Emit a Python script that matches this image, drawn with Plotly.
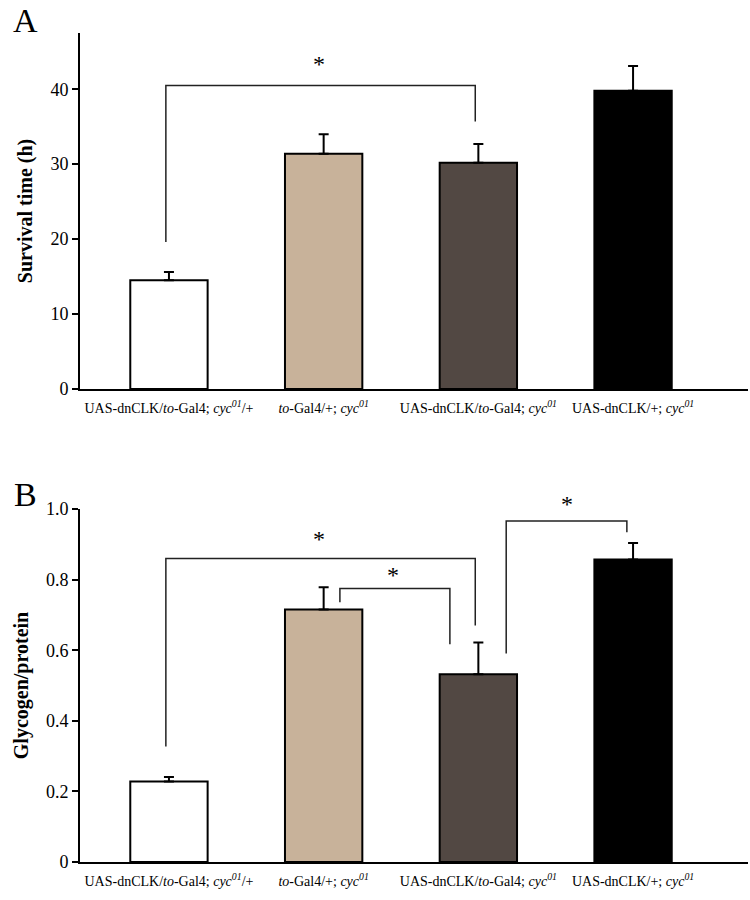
import plotly.graph_objects as go

categories = [
    "UAS-dnCLK/<i>to</i>-Gal4; <i>cyc<sup>01</sup></i>/+",
    "<i>to</i>-Gal4/+; <i>cyc<sup>01</sup></i>",
    "UAS-dnCLK/<i>to</i>-Gal4; <i>cyc<sup>01</sup></i>",
    "UAS-dnCLK/+; <i>cyc<sup>01</sup></i>",
]
bar_colors = ["#FFFFFF", "#C8B29A", "#524843", "#000000"]

survival_mean = [14.5, 31.4, 30.2, 39.8]
survival_err = [1.1, 2.6, 2.5, 3.3]

glycogen_mean = [0.228, 0.715, 0.532, 0.857]
glycogen_err = [0.013, 0.063, 0.09, 0.047]

# significance brackets: (x_left, y_left_bottom, x_right, y_right_bottom, y_top, star_x, star_y)
brackets_a = [(-0.02, 19.6, 1.98, 35.7, 40.5, 0.97, 43.4)]
brackets_b = [
    (-0.02, 0.327, 1.98, 0.67, 0.86, 0.97, 0.915),
    (1.105, 0.736, 1.816, 0.617, 0.775, 1.45, 0.812),
    (2.18, 0.591, 2.96, 0.934, 0.966, 2.57, 1.015),
]

xs = list(range(len(categories)))
FONT = "Liberation Serif"

W, H = 750, 900


def xdom(a, b):
    return [a / W, b / W]


def ydom(top, bottom):
    return [1 - bottom / H, 1 - top / H]


fig = go.Figure()
for xa, ya, means, errs in [("x", "y", survival_mean, survival_err),
                            ("x2", "y2", glycogen_mean, glycogen_err)]:
    fig.add_trace(go.Bar(
        x=xs, y=means, xaxis=xa, yaxis=ya, width=0.5,
        marker=dict(color=bar_colors, line=dict(color="black", width=2)),
        error_y=dict(type="data", symmetric=False, array=errs,
                     arrayminus=[0] * len(errs), color="black",
                     thickness=2, width=5),
        showlegend=False, hoverinfo="skip",
    ))

xrange = [-0.575, 3.743]
common_x = dict(range=xrange, tickmode="array", tickvals=xs, ticktext=categories,
                showline=True, linecolor="black", linewidth=2, ticks="",
                tickfont=dict(family=FONT, size=14, color="black"),
                showgrid=False, zeroline=False, domain=xdom(80, 748),
                ticklabelstandoff=5, automargin=False)
common_y = dict(showline=True, linecolor="black", linewidth=2, ticks="outside",
                ticklen=6, tickwidth=2, tickcolor="black",
                tickfont=dict(family=FONT, size=18, color="black"),
                showgrid=False, zeroline=False, automargin=False)

yrange_a = [0, 47.5]
yrange_b = [0, 1.0]

fig.update_layout(
    width=W, height=H,
    margin=dict(l=0, r=0, t=0, b=0),
    paper_bgcolor="white", plot_bgcolor="white",
    xaxis=dict(common_x, anchor="y"),
    xaxis2=dict(common_x, anchor="y2"),
    yaxis=dict(common_y, anchor="x", domain=ydom(33, 389), range=yrange_a,
               tickvals=[0, 10, 20, 30, 40],
               title=dict(text="<b>Survival time (h)</b>", standoff=12,
                          font=dict(family=FONT, size=20, color="black"))),
    yaxis2=dict(common_y, anchor="x2", domain=ydom(509, 862), range=yrange_b,
                tickvals=[0, 0.2, 0.4, 0.6, 0.8, 1.0],
                ticktext=["0", "0.2", "0.4", "0.6", "0.8", "1.0"],
                title=dict(text="<b>Glycogen/protein</b>", standoff=12,
                           font=dict(family=FONT, size=20, color="black"))),
)

for (xr, yr, yrange, brs) in [("x", "y", yrange_a, brackets_a),
                              ("x2", "y2", yrange_b, brackets_b)]:
    for (x0, y0, x1, y1, yt, sx, sy) in brs:
        fig.add_shape(type="path",
                      path=f"M {x0},{y0} L {x0},{yt} L {x1},{yt} L {x1},{y1}",
                      xref=xr, yref=yr, line=dict(color="#222222", width=1.5))
        fig.add_annotation(x=sx, y=(sy - yrange[0]) / (yrange[1] - yrange[0]),
                           xref=xr, yref=yr + " domain", text="*", showarrow=False,
                           xanchor="center", yanchor="middle",
                           font=dict(family=FONT, size=24, color="black"))

fig.add_annotation(x=25 / W, y=1 - 21 / H, xref="paper", yref="paper",
                   text="A", showarrow=False, xanchor="center", yanchor="middle",
                   font=dict(family=FONT, size=34, color="black"))
fig.add_annotation(x=25 / W, y=1 - 494 / H, xref="paper", yref="paper",
                   text="B", showarrow=False, xanchor="center", yanchor="middle",
                   font=dict(family=FONT, size=34, color="black"))

fig.write_html("out.html", config={"displayModeBar": False},
               post_script="document.body.style.margin='0';document.body.style.overflow='hidden';")
